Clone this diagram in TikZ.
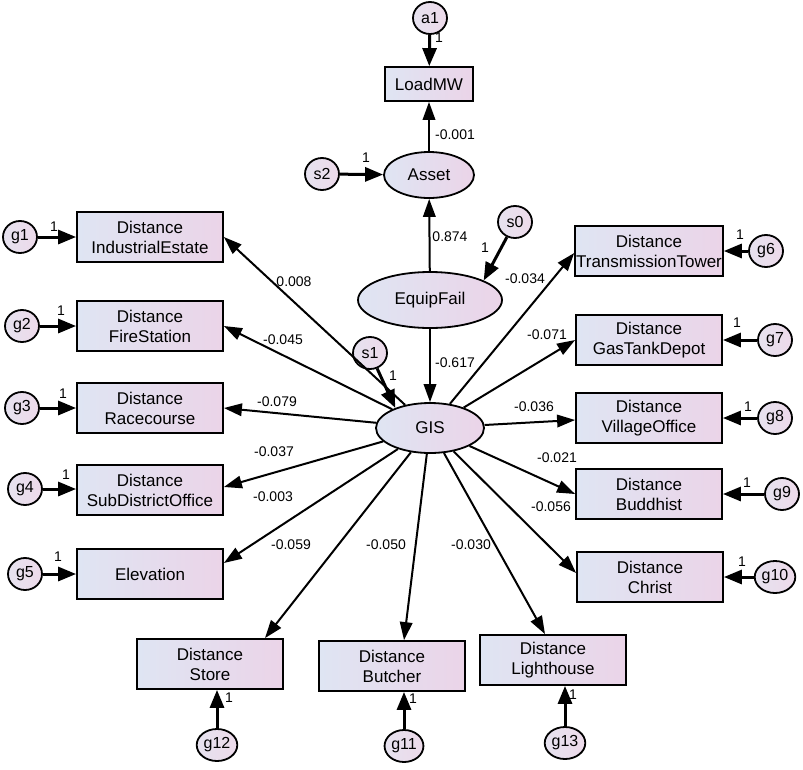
\documentclass[tikz,border=0pt]{standalone}
\usepackage{fontspec}
\setmainfont{Liberation Sans}
\usetikzlibrary{shapes.geometric,arrows.meta}
\definecolor{cl}{HTML}{DFE5F3}
\definecolor{cr}{HTML}{EBD4E8}
\definecolor{ecl}{HTML}{E6E2EF}
\definecolor{ecr}{HTML}{EDDAEA}
\tikzset{
  obsbox/.style={draw, line width=1.8pt, minimum width=146pt, minimum height=50pt,
    left color=cl, right color=cr, align=center, inner sep=1pt,
    font=\fontsize{17}{20}\selectfont},
  latent/.style={draw, ellipse, line width=1.8pt, inner sep=0pt,
    left color=cl, right color=cr, font=\fontsize{17}{20}\selectfont},
  errc/.style={draw, ellipse, line width=1.8pt, inner sep=1pt, minimum width=34pt,
    minimum height=32pt, left color=ecl, right color=ecr,
    font=\fontsize{16}{18}\selectfont},
  coef/.style={font=\fontsize{14}{16}\selectfont, inner sep=0pt},
  one/.style={font=\fontsize{14}{16}\selectfont, inner sep=0pt},
  patharrow/.style={line width=2pt, -{Triangle[length=18pt,width=12.5pt]}},
  errarrow/.style={line width=3pt, -{Triangle[length=18pt,width=14pt]}},
}
\begin{document}
\begin{tikzpicture}[x=1pt,y=-1pt]
\useasboundingbox (0,0) rectangle (803,769);
\fill[white] (0,0) rectangle (803,769);

% central structure
\node[errc] (a1) at (430,18) {a1};
\node[obsbox, minimum width=88pt, minimum height=34pt] (LM) at (429,84) {LoadMW};
\node[latent, minimum width=90pt, minimum height=46pt] (As) at (429,175) {Asset};
\node[errc] (s2) at (322,174) {s2};
\node[latent, minimum width=144pt, minimum height=56pt] (EF) at (430,300) {EquipFail};
\node[errc] (s0) at (515,222) {s0};
\node[errc] (s1) at (370,353) {s1};
\node[latent, minimum width=108pt, minimum height=50pt] (GIS) at (430,428) {GIS};

% left boxes
\node[obsbox] (b1) at (150,237) {Distance\\IndustrialEstate};
\node[obsbox] (b2) at (150,326) {Distance\\FireStation};
\node[obsbox] (b3) at (150,408) {Distance\\Racecourse};
\node[obsbox] (b4) at (150,490) {Distance\\SubDistrictOffice};
\node[obsbox] (b5) at (150,574) {Elevation};
\node[errc] (g1) at (20,237) {g1};
\node[errc] (g2) at (22,326) {g2};
\node[errc] (g3) at (22,408) {g3};
\node[errc] (g4) at (25,489) {g4};
\node[errc] (g5) at (25,574) {g5};

% right boxes
\node[obsbox] (r6) at (649,251) {Distance\\TransmissionTower};
\node[obsbox] (r7) at (649,340) {Distance\\GasTankDepot};
\node[obsbox] (r8) at (649,418) {Distance\\VillageOffice};
\node[obsbox] (r9) at (649,494) {Distance\\Buddhist};
\node[obsbox] (r10) at (650,577) {Distance\\Christ};
\node[errc] (g6) at (766,251) {g6};
\node[errc] (g7) at (775,340) {g7};
\node[errc] (g8) at (775,418) {g8};
\node[errc] (g9) at (782,494) {g9};
\node[errc] (g10) at (775,577) {g10};

% bottom boxes
\node[obsbox] (st) at (210,664) {Distance\\Store};
\node[obsbox] (bu) at (392,666) {Distance\\Butcher};
\node[obsbox] (lh) at (553,660) {Distance\\Lighthouse};
\node[errc] (g12) at (217,745) {g12};
\node[errc] (g11) at (404,746) {g11};
\node[errc] (g13) at (565,743) {g13};

% structural paths
\draw[errarrow] (a1) -- (LM);
\draw[patharrow] (As) -- (LM);
\draw[errarrow] (s2) -- (As);
\draw[patharrow] (EF) -- (As);
\draw[errarrow] (s0) -- (EF.20);
\draw[patharrow] (EF) -- (GIS);
\draw[errarrow] (s1) -- (GIS.150);

% GIS to indicators
\draw[patharrow] (GIS) -- (b1.east);
\draw[patharrow] (GIS) -- (b2.east);
\draw[patharrow] (GIS) -- (b3.east);
\draw[patharrow] (GIS) -- ([yshift=3pt]b4.east);
\draw[patharrow] (GIS) -- ([yshift=11pt]b5.east);
\draw[patharrow] (GIS) -- ([xshift=55pt]st.north);
\draw[patharrow] (GIS) -- ([xshift=12pt]bu.north);
\draw[patharrow] (GIS) -- ([xshift=-8pt]lh.north);
\draw[patharrow] (GIS) -- ([yshift=4pt]r10.west);
\draw[patharrow] (GIS) -- (r9.west);
\draw[patharrow] (GIS) -- ([yshift=-2pt]r8.west);
\draw[patharrow] (GIS) -- (r7.west);
\draw[patharrow] (GIS) -- ([yshift=-2pt]r6.west);

% error terms
\draw[errarrow] (g1) -- (b1);
\draw[errarrow] (g2) -- (b2);
\draw[errarrow] (g3) -- (b3);
\draw[errarrow] (g4) -- (g4 -| b4.west);
\draw[errarrow] (g5) -- (b5);
\draw[errarrow] (g6) -- (r6);
\draw[errarrow] (g7) -- (r7);
\draw[errarrow] (g8) -- (r8);
\draw[errarrow] (g9) -- (r9);
\draw[errarrow] (g10) -- (r10);
\draw[errarrow] (g12) -- (g12 |- st.south);
\draw[errarrow] (g11) -- (g11 |- bu.south);
\draw[errarrow] (g13) -- (g13 |- lh.south);

% coefficients
\node[coef] (c1) at (294,282) {0.008};
\node[coef] (c2) at (283,340) {-0.045};
\node[coef] (c3) at (277,402) {-0.079};
\node[coef] (c4) at (274,452) {-0.037};
\node[coef] (c5) at (273,497) {-0.003};
\node[coef] (c6) at (291,545) {-0.059};
\node[coef] (c7) at (386,545) {-0.050};
\node[coef] (c8) at (471,545) {-0.030};
\node[coef] (c9) at (551,507) {-0.056};
\node[coef] (c10) at (557,458) {-0.021};
\node[coef] (c11) at (534,407) {-0.036};
\node[coef] (c12) at (547,335) {-0.071};
\node[coef] (c13) at (525,279) {-0.034};
\node[coef] (c14) at (450,237) {0.874};
\node[coef] (c15) at (455,363) {-0.617};
\node[coef] (c16) at (455,135) {-0.001};

% unit loadings
\node[one] (o1) at (439,38) {1};
\node[one] (o2) at (366,158) {1};
\node[one] (o3) at (485,248) {1};
\node[one] (o4) at (393,376) {1};
\node[one] (o5) at (54,227) {1};
\node[one] (o6) at (61,311) {1};
\node[one] (o7) at (63,394) {1};
\node[one] (o8) at (66,475) {1};
\node[one] (o9) at (58,557) {1};
\node[one] (o10) at (740,235) {1};
\node[one] (o11) at (737,323) {1};
\node[one] (o12) at (748,407) {1};
\node[one] (o13) at (747,483) {1};
\node[one] (o14) at (742,562) {1};
\node[one] (o15) at (229,698) {1};
\node[one] (o16) at (413,699) {1};
\node[one] (o17) at (573,695) {1};
\end{tikzpicture}
\end{document}
